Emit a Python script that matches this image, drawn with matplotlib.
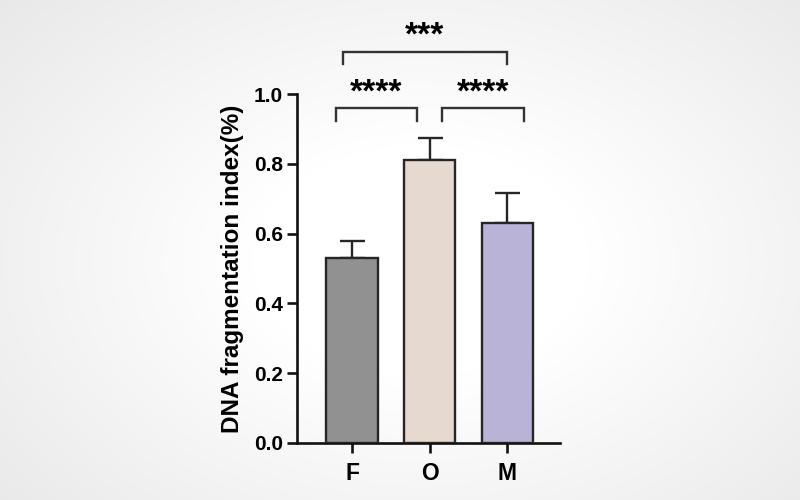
import numpy as np
import matplotlib
matplotlib.use("Agg")
import matplotlib.pyplot as plt

# ---- data ----
categories = ["F", "O", "M"]
means = [0.531, 0.811, 0.630]
errors = [0.048, 0.063, 0.086]
bar_colors = ["#919191", "#e6d9cf", "#b9b3d8"]
yticks = [0.0, 0.2, 0.4, 0.6, 0.8, 1.0]
ylabel = "DNA fragmentation index(%)"
comparisons = [(0, 1, "****"), (1, 2, "****"), (0, 2, "***")]

plt.rcParams['font.family'] = ['Liberation Sans', 'DejaVu Sans']
plt.rcParams['font.weight'] = 'bold'

fig = plt.figure(figsize=(8, 5), dpi=100)

# radial gradient background
bg = fig.add_axes([0, 0, 1, 1], zorder=-10)
yy, xx = np.mgrid[0:500, 0:800]
r = np.sqrt(((xx - 420) / 480.0) ** 2 + ((yy - 260) / 330.0) ** 2)
val = 1.0 - 0.085 * np.clip(r - 0.35, 0, None) / 0.8
val = np.clip(val, 0.91, 1.0)
bg.imshow(np.dstack([val, val, val]), aspect='auto', extent=[0, 1, 0, 1])
bg.set_axis_off()

ax = fig.add_axes([297 / 800, 57 / 500, (560 - 297) / 800, (443 - 94) / 500])
ax.patch.set_alpha(0)
x = np.arange(len(categories))
edge = "#262626"
ax.bar(x, means, width=0.66, color=bar_colors, edgecolor=edge, linewidth=1.7, zorder=3)
ax.errorbar(x, means, yerr=[np.zeros(len(means)), errors], fmt='none', ecolor=edge,
            elinewidth=1.7, capsize=9, capthick=1.7, zorder=2)

ax.set_xlim(-0.71, 2.68)
ax.set_ylim(0, 1.0)
ax.set_yticks(yticks)
ax.set_yticklabels([f"{v:.1f}" for v in yticks])
ax.set_xticks(x)
ax.set_xticklabels(categories)
for s in ['top', 'right']:
    ax.spines[s].set_visible(False)
for s in ['left', 'bottom']:
    ax.spines[s].set_linewidth(1.9)
    ax.spines[s].set_color("#111111")
ax.tick_params(axis='both', width=1.9, length=7, color="#111111", pad=3)
ax.tick_params(axis='y', labelsize=15)
ax.tick_params(axis='x', labelsize=16.5, pad=7)
for lab in ax.get_xticklabels() + ax.get_yticklabels():
    lab.set_fontweight('bold')
ax.set_ylabel(ylabel, fontsize=17.5, fontweight='bold', labelpad=7)

# significance brackets
bracket_specs = {
    (0, 1): (-0.21, 0.84, 0.96, 0.923, 1.003),
    (1, 2): (1.16, 2.21, 0.96, 0.923, 1.003),
    (0, 2): (-0.12, 2.00, 1.12, 1.086, 1.165),
}
for a, b, txt in comparisons:
    x1, x2, ytop, yleg, ytxt = bracket_specs[(a, b)]
    ax.plot([x1, x1, x2, x2], [yleg, ytop, ytop, yleg], color="#333333", lw=1.7,
            clip_on=False, solid_joinstyle='miter')
    ax.text((x1 + x2) / 2, ytxt, txt, ha='center', va='center', fontsize=24,
            fontweight='bold', clip_on=False)

fig.savefig("out.png", dpi=100)
